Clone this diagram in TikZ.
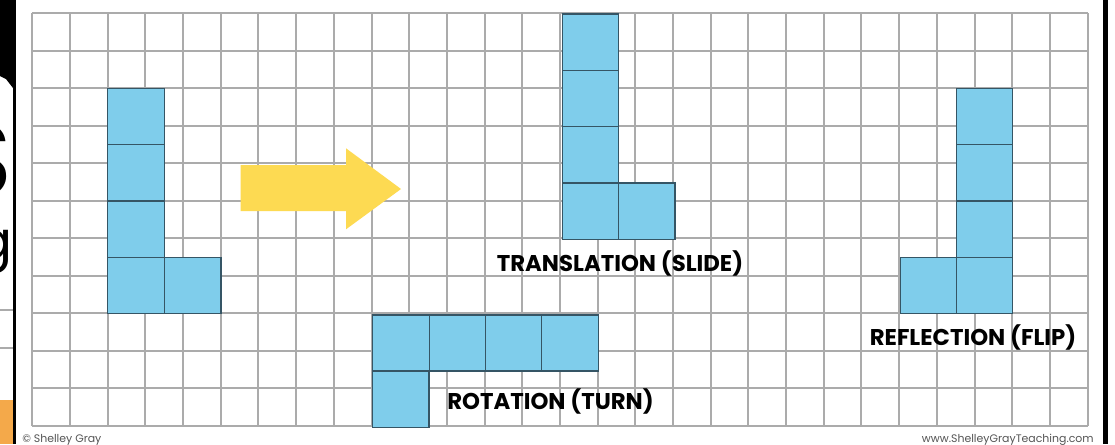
\documentclass[tikz,border=0pt]{standalone}
\usepackage{fontspec}
\setmainfont{Poppins}
\begin{document}
\begin{tikzpicture}[x=0.75pt,y=-0.75pt,
  gridline/.style={draw=gridgray,line width=1.5pt},
  tile/.style={fill=tileblue,draw=tileedge,line width=0.8pt},
  label/.style={font=\bfseries\fontsize{17.1}{20}\selectfont,text=black,inner sep=0pt,anchor=base},
  credit/.style={font=\fontsize{8.2}{10}\selectfont,text=creditgray,inner sep=0pt,anchor=base}]
\definecolor{gridgray}{HTML}{ABABAB}
\definecolor{tileblue}{HTML}{7FCDEB}
\definecolor{tileedge}{HTML}{355565}
\definecolor{arrowyellow}{HTML}{FDDA52}
\definecolor{creditgray}{HTML}{555555}
\definecolor{sideorange}{HTML}{F4A94A}
\useasboundingbox (0,0) rectangle (1115,444);
\fill[white] (0,0) rectangle (1115,444);
% left strip fragments
\begin{scope}
  \clip (0,0) rectangle (13,444);
  \fill[black] (0,0) -- (13,0) -- (13,88) -- (6,79) -- (0,76) -- cycle;
  \node[anchor=east,inner sep=0pt,font=\fontsize{78}{78}\selectfont] (sfrag) at (13,160) {S};
  \node[anchor=east,inner sep=0pt,font=\fontsize{40}{40}\selectfont] (gfrag) at (13,252) {g};
  \draw[gridgray,line width=0.8pt] (0,310) -- (13,310) (0,348) -- (13,348);
  \fill[sideorange] (0,400) rectangle (13,444);
\end{scope}
\fill[black] (13,0) rectangle (16,444);
\fill[black] (1103,0) rectangle (1108,444);
% grid
\foreach \i in {0,...,28} {
  \draw[gridline] ({32.3+\i*37.69},13.3) -- ({32.3+\i*37.69},425.7);
}
\foreach \j in {0,...,11} {
  \draw[gridline] (32.3,{13.3+\j*37.49}) -- (1087.7,{13.3+\j*37.49});
}
% original L
\foreach \k in {0,...,3} { \draw[tile] (107.7,{88.7+\k*56.15}) rectangle (164.4,{88.7+(\k+1)*56.15}); }
\draw[tile] (164.4,257.15) rectangle (221,313.3);
% translation L
\foreach \k in {0,...,3} { \draw[tile] (562.3,{14+\k*56.33}) rectangle (618.7,{14+(\k+1)*56.33}); }
\draw[tile] (618.7,183) rectangle (675,239.3);
% rotation
\foreach \k in {0,...,3} { \draw[tile] ({372.7+\k*56.4},315) rectangle ({372.7+(\k+1)*56.4},371); }
\draw[tile] (372.7,371) rectangle (429,427.3);
% reflection
\foreach \k in {0,...,3} { \draw[tile] (956.7,{88.7+\k*56.15}) rectangle (1012.7,{88.7+(\k+1)*56.15}); }
\draw[tile] (900.7,257.15) rectangle (956.7,313.3);
% arrow
\fill[arrowyellow] (240.7,165) -- (346,165) -- (346,148.3) -- (401,189) -- (346,229.3) -- (346,211) -- (240.7,211) -- cycle;
% labels
\node[label] (translation) at (620,271.5) {TRANSLATION (SLIDE)};
\node[label] (rotation) at (550.5,409.5) {ROTATION (TURN)};
\node[label] (reflection) at (973,345) {REFLECTION (FLIP)};
\node[credit,anchor=base west] (copy) at (22,442) {© Shelley Gray};
\node[credit,anchor=base east] (web) at (1094,442) {www.ShelleyGrayTeaching.com};
\end{tikzpicture}
\end{document}
